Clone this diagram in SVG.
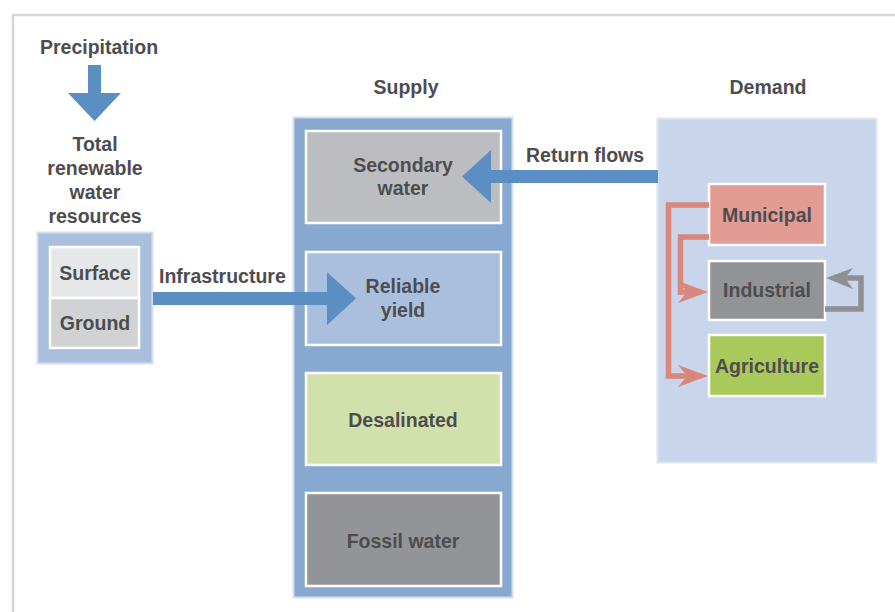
<svg xmlns="http://www.w3.org/2000/svg" width="895" height="612" viewBox="0 0 895 612">
<style>
  text { font-family: "Liberation Sans", Arial, sans-serif; font-weight: bold; font-size: 19.5px; fill: #4d4d4f; text-anchor: middle; }
  .lbl { text-anchor: start; }
  .inner { stroke: #ffffff; stroke-width: 2.5; }
  .blue { fill: #5b8ec2; }
  .salmon { fill: none; stroke: #d9877d; stroke-width: 5.5; }
  .gray { fill: none; stroke: #8f9094; stroke-width: 5.5; }
</style>
<rect width="895" height="612" fill="#ffffff"/>
<!-- frame -->
<path d="M13,612 V15 H895" fill="none" stroke="#d5d5d5" stroke-width="2.5"/>

<g id="precipitation">
  <text x="99" y="54">Precipitation</text>
</g>

<g id="total-renewable">
  <text x="95" y="151">Total</text>
  <text x="95" y="175">renewable</text>
  <text x="95" y="199">water</text>
  <text x="95" y="223">resources</text>
  <rect x="37.5" y="232.5" width="115" height="131" fill="#a9bfdd" stroke="#d3deef" stroke-width="2"/>
  <g id="surface">
    <rect x="50" y="247" width="89" height="51" fill="#e6e7e9" class="inner"/>
    <text x="95" y="280">Surface</text>
  </g>
  <g id="ground">
    <rect x="50" y="298" width="89" height="50" fill="#d1d2d4" class="inner"/>
    <text x="95" y="330">Ground</text>
  </g>
</g>

<g id="supply">
  <text x="406" y="94">Supply</text>
  <rect x="293.5" y="117.5" width="219" height="480" fill="#87a8d1" stroke="#d3deef" stroke-width="2"/>
  <g id="secondary-water">
    <rect x="306" y="131" width="195" height="92" fill="#bcbdc0" class="inner"/>
    <text x="403" y="172">Secondary</text>
    <text x="403" y="195">water</text>
  </g>
  <g id="reliable-yield">
    <rect x="306" y="252" width="195" height="93" fill="#a9bfdd" class="inner"/>
    <text x="403" y="293">Reliable</text>
    <text x="403" y="317">yield</text>
  </g>
  <g id="desalinated">
    <rect x="306" y="373" width="195" height="92" fill="#d2e1ac" class="inner"/>
    <text x="403" y="427">Desalinated</text>
  </g>
  <g id="fossil-water">
    <rect x="306" y="493" width="195" height="93" fill="#939497" class="inner"/>
    <text x="403" y="548">Fossil water</text>
  </g>
</g>

<g id="demand">
  <text x="768" y="94">Demand</text>
  <rect x="657.5" y="118.5" width="219" height="344" fill="#c8d5ea" stroke="#dce5f2" stroke-width="2"/>
  <g id="municipal">
    <rect x="709" y="184" width="116" height="61" fill="#e39c93" class="inner"/>
    <text x="767" y="222">Municipal</text>
  </g>
  <g id="industrial">
    <rect x="709" y="261" width="116" height="59" fill="#929397" class="inner"/>
    <text x="767" y="297">Industrial</text>
  </g>
  <g id="agriculture">
    <rect x="709" y="335" width="116" height="61" fill="#a9c95b" class="inner"/>
    <text x="767" y="373">Agriculture</text>
  </g>
</g>

<g id="connectors">
  <!-- precipitation arrow -->
  <path class="blue" d="M88,65 H101 V93 H121 L94.5,121 L68,93 H88 Z"/>
  <!-- infrastructure arrow -->
  <path class="blue" d="M153,292 H327 V272 L356,298.5 L327,325 V305 H153 Z"/>
  <text class="lbl" x="159" y="283">Infrastructure</text>
  <!-- return flows arrow -->
  <path class="blue" d="M658,170 H491 V150 L462,176.5 L491,203 V183 H658 Z"/>
  <text class="lbl" x="526" y="162">Return flows</text>
  <!-- municipal to agriculture -->
  <path class="salmon" d="M709,205 H668.5 V376 H690"/>
  <path d="M708,376 L678,365 L687,376 L678,387 Z" fill="#d9877d"/>
  <!-- municipal to industrial -->
  <path class="salmon" d="M709,237 H680.5 V292 H690"/>
  <path d="M708,292 L678,281 L687,292 L678,303 Z" fill="#d9877d"/>
  <!-- industrial loop -->
  <path class="gray" d="M825,309 H861 V278 H842"/>
  <path d="M826,278 L853,268 L845,278 L853,289 Z" fill="#8f9094"/>
</g>
</svg>
